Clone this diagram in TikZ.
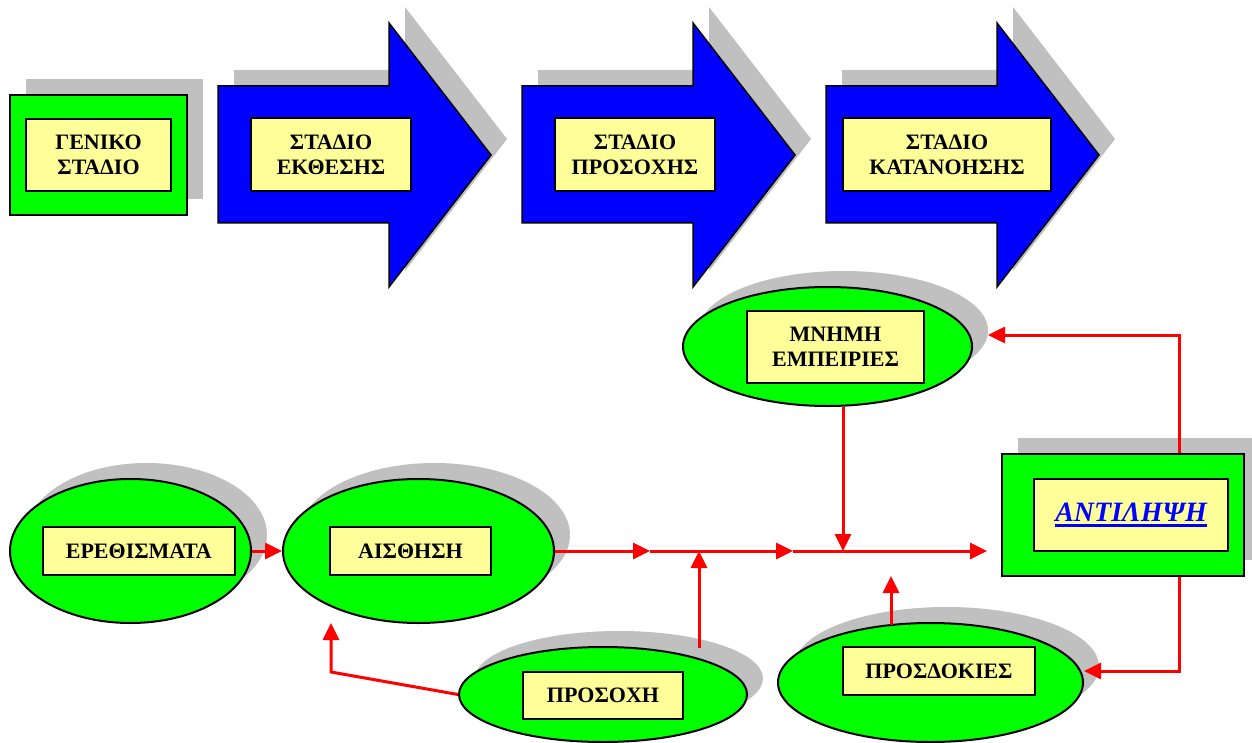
\documentclass[tikz,border=0pt]{standalone}
\usepackage{fontspec}
\setmainfont{Liberation Serif}
\usetikzlibrary{shapes.geometric,arrows.meta,shadows}
\definecolor{ggreen}{RGB}{0,255,0}
\definecolor{lyellow}{RGB}{255,255,153}
\definecolor{bblue}{RGB}{0,0,255}
\definecolor{sgray}{RGB}{192,192,192}
\definecolor{rred}{RGB}{255,0,0}
\newcommand\myuline[1]{\leavevmode\vtop{\hbox{#1}\kern2pt\hrule height 3pt}}
\begin{document}
\begin{tikzpicture}[x=1pt,y=-1pt,
  shad/.style={general shadow={fill=sgray,shadow xshift=16pt,shadow yshift=16pt}},
  ell/.style={ellipse, draw=black, line width=2pt, fill=ggreen, shad, inner sep=0pt},
  outerbox/.style={rectangle, draw=black, line width=2pt, fill=ggreen, shad, inner sep=0pt},
  lbl/.style={rectangle, draw=black, line width=2pt, fill=lyellow, inner sep=0pt, align=center, font=\bfseries\fontsize{22}{25}\selectfont},
  bigarrow/.style={draw=black, line width=1.5pt, fill=bblue, shad, line join=miter},
  conn/.style={draw=rred, line width=3pt, -{Triangle[length=17pt,width=16pt]}}
]
\useasboundingbox (0,0) rectangle (1252,743);
\fill[white] (0,0) rectangle (1252,743);

% top row
\node[outerbox, minimum width=177pt, minimum height=120pt] (genO) at (98.5,155) {};
\node[lbl, minimum width=145pt, minimum height=72pt] (genL) at (98.5,155) {ΓΕΝΙΚΟ\\ΣΤΑΔΙΟ};

\path[bigarrow] (218,86) -- (389,86) -- (389,23) -- (491,155) -- (389,287) -- (389,223) -- (218,223) -- cycle;
\node[lbl, minimum width=160pt, minimum height=73pt] (st1) at (331,154.5) {ΣΤΑΔΙΟ\\ΕΚΘΕΣΗΣ};

\path[bigarrow] (522,86) -- (693,86) -- (693,23) -- (795,155) -- (693,287) -- (693,223) -- (522,223) -- cycle;
\node[lbl, minimum width=160pt, minimum height=73pt] (st2) at (635,154.5) {ΣΤΑΔΙΟ\\ΠΡΟΣΟΧΗΣ};

\path[bigarrow] (826,86) -- (997,86) -- (997,23) -- (1099,155) -- (997,287) -- (997,223) -- (826,223) -- cycle;
\node[lbl, minimum width=208pt, minimum height=73pt] (st3) at (947,154.5) {ΣΤΑΔΙΟ\\ΚΑΤΑΝΟΗΣΗΣ};

% ellipses
\node[ell, minimum width=241pt, minimum height=144pt] (ereth) at (130.5,551) {};
\node[lbl, minimum width=192.5pt, minimum height=48pt] (erethL) at (138.75,551) {ΕΡΕΘΙΣΜΑΤΑ};

\node[ell, minimum width=271pt, minimum height=144pt] (aisth) at (418.5,551) {};
\node[lbl, minimum width=161pt, minimum height=48pt] (aisthL) at (410.5,551) {ΑΙΣΘΗΣΗ};

\node[ell, minimum width=289pt, minimum height=119pt] (mnimi) at (827.5,346.5) {};
\node[lbl, minimum width=177pt, minimum height=72pt] (mnimiL) at (835.5,347) {ΜΝΗΜΗ\\ΕΜΠΕΙΡΙΕΣ};

\node[ell, minimum width=288pt, minimum height=95pt] (prosoxi) at (603,694.5) {};
\node[lbl, minimum width=160pt, minimum height=47pt] (prosoxiL) at (603,695.5) {ΠΡΟΣΟΧΗ};

\node[ell, minimum width=305pt, minimum height=119pt] (prosd) at (930.5,682.5) {};
\node[lbl, minimum width=192pt, minimum height=48pt] (prosdL) at (939,671) {ΠΡΟΣΔΟΚΙΕΣ};

\node[outerbox, minimum width=242pt, minimum height=122pt] (antil) at (1123,515) {};
\node[lbl, minimum width=194pt, minimum height=72pt, text=bblue, font=\bfseries\itshape\fontsize{28}{30}\selectfont] (antilL) at (1131,515) {\myuline{ΑΝΤΙΛΗΨΗ}};

% connector coordinates
\coordinate (j1) at (650,551);
\coordinate (m1) at (699,551);
\coordinate (j2) at (793,551);
\coordinate (m2) at (843,551);
\coordinate (ae) at (987,551);
\coordinate (ps) at (699,648);
\coordinate (pd0) at (891,625);
\coordinate (pd1) at (891,576);
\coordinate (pa0) at (331,672);
\coordinate (pa1) at (331,623);
\coordinate (mc) at (1179,335);
\coordinate (mn) at (988,335);
\coordinate (pc) at (1179,671);
\coordinate (pe) at (1084,671);

\draw[conn] (ereth.east) -- (aisth.west);
\draw[conn] (aisth.east) -- (j1);
\draw[conn] (j1) -- (j2);
\draw[conn] (j2) -- (ae);
\draw[conn] (ps) -- (m1);
\draw[conn] (mnimi.south -| m2) -- (m2);
\draw[conn] (pd0) -- (pd1);
\draw[conn] (prosoxi.west) -- (pa0) -- (pa1);
\draw[conn] (antil.north -| mc) -- (mc) -- (mn);
\draw[conn] (antil.south -| pc) -- (pc) -- (pe);
\end{tikzpicture}
\end{document}
